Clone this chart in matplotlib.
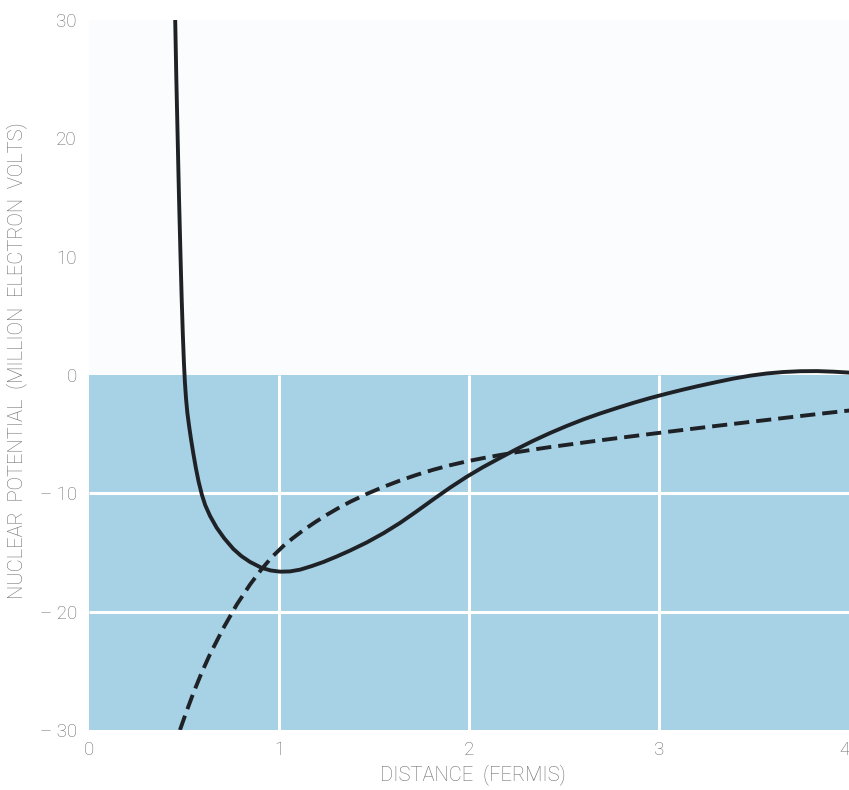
import matplotlib
matplotlib.use("Agg")
import matplotlib.pyplot as plt

# Nuclear potential between two nucleons versus separation
# Solid curve: full nuclear potential (repulsive core + attractive well)
solid_r = [0.452, 0.458, 0.465, 0.472, 0.480, 0.486, 0.492, 0.498, 0.503, 0.509,
           0.516, 0.525, 0.535, 0.547, 0.560, 0.575, 0.592, 0.610, 0.635, 0.670,
           0.710, 0.758, 0.800, 0.846, 0.907, 0.955, 1.004, 1.055, 1.109, 1.170,
           1.232, 1.300, 1.370, 1.460, 1.550, 1.635, 1.720, 1.811, 1.900, 1.986,
           2.070, 2.162, 2.250, 2.337, 2.425, 2.513, 2.600, 2.688, 2.780, 2.864,
           2.950, 3.040, 3.120, 3.200, 3.300, 3.390, 3.480, 3.565, 3.650, 3.740,
           3.830, 3.916, 4.000]
solid_v = [30.0, 25.0, 20.0, 15.0, 10.0, 6.5, 3.5, 1.0, -0.6, -2.0,
           -3.2, -4.3, -5.4, -6.6, -7.8, -9.0, -10.1, -11.0, -11.9, -12.9,
           -13.8, -14.7, -15.3, -15.8, -16.3, -16.52, -16.62, -16.6, -16.45, -16.15,
           -15.8, -15.35, -14.85, -14.15, -13.35, -12.5, -11.55, -10.5, -9.5, -8.6,
           -7.8, -7.0, -6.25, -5.55, -4.9, -4.3, -3.75, -3.25, -2.77, -2.35,
           -1.95, -1.57, -1.25, -0.95, -0.6, -0.3, -0.05, 0.13, 0.25, 0.32,
           0.33, 0.28, 0.2]

# Dashed curve: purely attractive potential
dashed_r = [0.477, 0.510, 0.547, 0.590, 0.635, 0.705, 0.776, 0.846, 0.907, 0.960,
            1.021, 1.070, 1.126, 1.190, 1.249, 1.310, 1.372, 1.460, 1.545, 1.635,
            1.720, 1.811, 1.900, 1.986, 2.070, 2.162, 2.250, 2.337, 2.425, 2.513,
            2.600, 2.688, 2.850, 3.004, 3.100, 3.197, 3.300, 3.390, 3.480, 3.565,
            3.650, 3.740, 3.870, 4.000]
dashed_v = [-30.0, -28.5, -26.9, -25.2, -23.6, -21.4, -19.4, -17.7, -16.4, -15.4,
            -14.45, -13.8, -13.12, -12.42, -11.82, -11.25, -10.72, -10.05, -9.47, -8.92,
            -8.45, -8.0, -7.62, -7.3, -7.03, -6.76, -6.52, -6.3, -6.09, -5.9,
            -5.71, -5.52, -5.19, -4.88, -4.69, -4.5, -4.3, -4.13, -3.96, -3.8,
            -3.64, -3.47, -3.23, -3.0]

x_ticks = [0, 1, 2, 3, 4]
x_tick_labels = ["0", "1", "2", "3", "4"]
y_ticks = [-30, -20, -10, 0, 10, 20, 30]
y_tick_labels = ["\u2013 30", "\u2013 20", "\u2013 10", "0", "10", "20", "30"]
grid_x = [1, 2, 3]
grid_y = [-10, -20]

TEXT = "#6c6c6c"
BLUE = "#a7d1e5"
INK = "#1e2226"
FONT = ["Roboto", "DejaVu Sans"]

W, H = 849, 790
fig = plt.figure(figsize=(W / 100, H / 100), dpi=100)
fig.patch.set_facecolor("white")

left, right = 89.3 / W, 849.5 / W
bottom, top = (H - 730) / H, (H - 20) / H
ax = fig.add_axes([left, bottom, right - left, top - bottom])
ax.set_facecolor("#fafcfd")
ax.set_xlim(0, 4)
ax.set_ylim(-30, 30)

# Shaded negative-energy region with white grid
ax.axhspan(-30, 0, color=BLUE, lw=0, zorder=0)
ax.vlines(grid_x, -30, 0, colors="white", lw=2.2, zorder=1)
ax.hlines(grid_y, 0, 4, colors="white", lw=2.2, zorder=1)

ax.plot(solid_r, solid_v, color=INK, lw=2.8, solid_capstyle="butt",
        solid_joinstyle="round", zorder=3)
ax.plot(dashed_r, dashed_v, color=INK, lw=2.8, dashes=(3.9, 1.8),
        dash_capstyle="butt", dash_joinstyle="round", zorder=3)

for s in ax.spines.values():
    s.set_visible(False)

ax.set_xticks(x_ticks)
ax.set_xticklabels(x_tick_labels)
ax.set_yticks(y_ticks)
ax.set_yticklabels(y_tick_labels)
ax.tick_params(axis="both", length=0, colors=TEXT, labelsize=13.5)
ax.tick_params(axis="x", pad=8)
ax.tick_params(axis="y", pad=9)
for lab in ax.get_xticklabels() + ax.get_yticklabels():
    lab.set_family(FONT)
    lab.set_fontweight("light")
ax.get_xticklabels()[-1].set_horizontalalignment("right")

fig.text(473 / W, 1 - 775 / H, "DISTANCE  (FERMIS)", ha="center", va="center",
         color=TEXT, fontsize=14.5, family=FONT, fontweight="light")
fig.text(17 / W, 1 - 361 / H, "NUCLEAR  POTENTIAL  (MILLION  ELECTRON  VOLTS)",
         ha="center", va="center", rotation=90, color=TEXT, fontsize=14.5,
         family=FONT, fontweight="light")

fig.savefig("out.png", dpi=100, facecolor=fig.get_facecolor())
